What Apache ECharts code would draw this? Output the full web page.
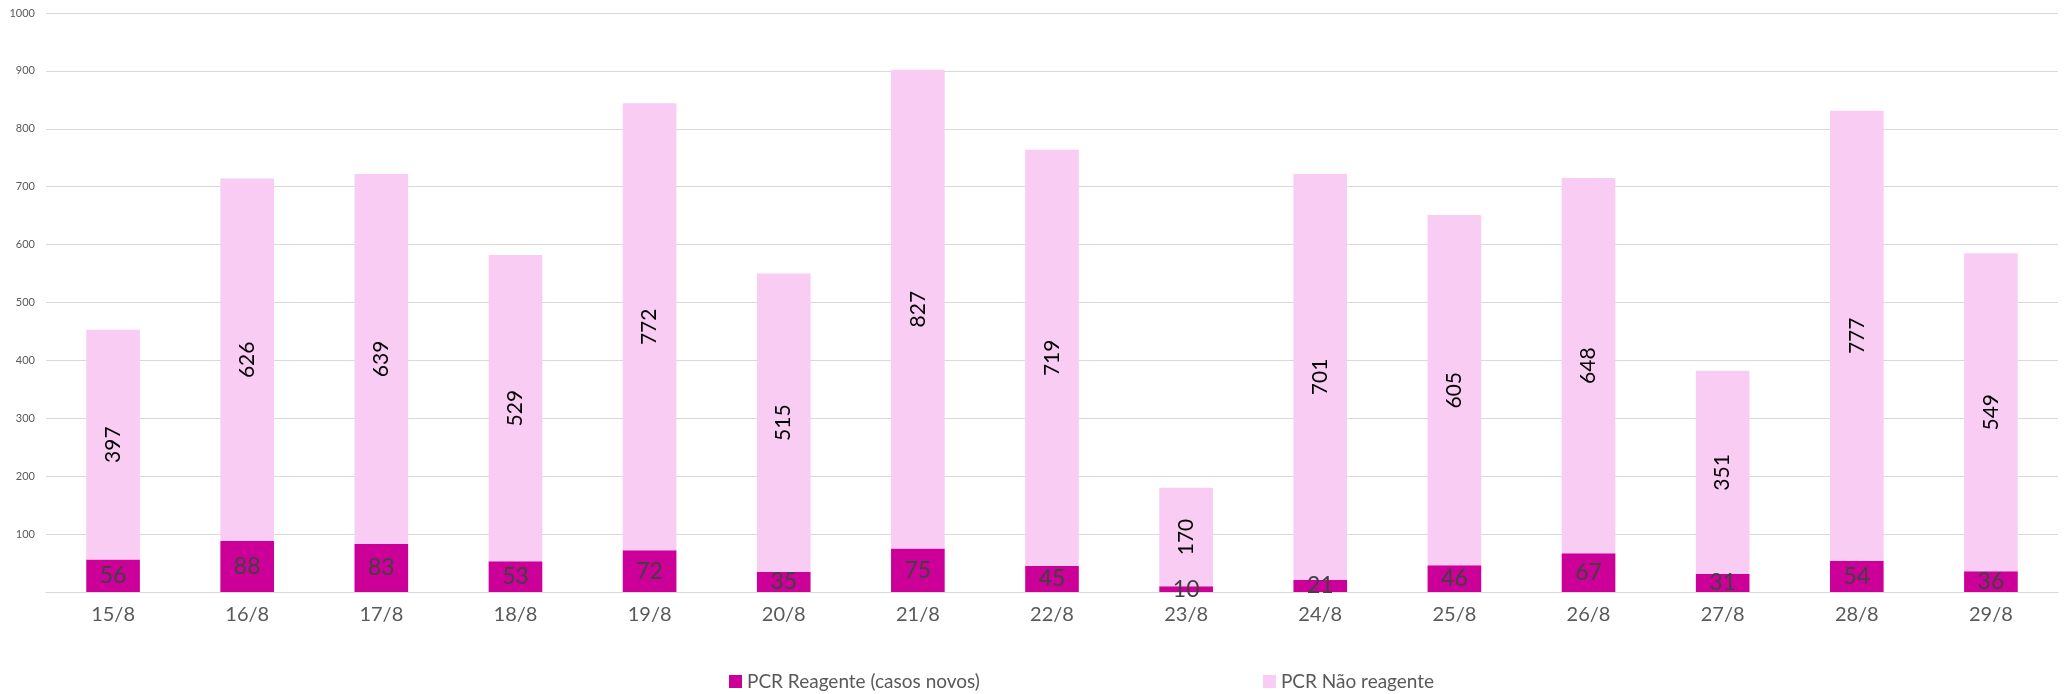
<!DOCTYPE html>
<html><head><meta charset="utf-8">
<script src="https://cdn.jsdelivr.net/npm/echarts@6/dist/echarts.min.js"></script>
<style>html,body{margin:0;padding:0;background:#fff}#c{width:2065px;height:694px}</style>
</head><body><div id="c"></div>
<script>
const categories = ['15/8','16/8','17/8','18/8','19/8','20/8','21/8','22/8','23/8','24/8','25/8','26/8','27/8','28/8','29/8'];
const reagente = [56,88,83,53,72,35,75,45,10,21,46,67,31,54,36];
const naoReagente = [397,626,639,529,772,515,827,719,170,701,605,648,351,777,549];
const seriesNames = ['PCR Reagente (casos novos)','PCR Não reagente'];
const FONT = 'Lato, "Open Sans", sans-serif';
const chart = echarts.init(document.getElementById('c'));
chart.setOption({
  animation:false,
  textStyle:{fontFamily:FONT},
  grid:{left:46,right:7,top:13,bottom:102,containLabel:false},
  legend:{
    data:seriesNames, left:724, top:667, itemGap:283, itemWidth:13, itemHeight:13,
    icon:'rect', textStyle:{fontSize:19,color:'#595959',fontFamily:FONT}
  },
  xAxis:{type:'category',data:categories,
    axisLine:{show:true,lineStyle:{color:'#d9d9d9'}},axisTick:{show:false},
    axisLabel:{fontSize:20,color:'#595959',margin:13,fontFamily:FONT}},
  yAxis:{type:'value',min:0,max:1000,interval:100,
    axisLine:{show:false},axisTick:{show:false},
    splitLine:{lineStyle:{color:'#d9d9d9',width:1}},
    axisLabel:{fontSize:11,color:'#595959',margin:11,fontFamily:FONT,
      formatter:v=>v===0?'':String(v)}},
  series:[
    {name:seriesNames[0],type:'bar',stack:'t',data:reagente,barCategoryGap:'60%',
     itemStyle:{color:'#CC0099'},
     label:{show:true,position:'inside',fontSize:23,color:'#404040',fontFamily:FONT}},
    {name:seriesNames[1],type:'bar',stack:'t',data:naoReagente,barCategoryGap:'60%',
     itemStyle:{color:'#F9CCF3'},
     label:{show:true,position:'inside',rotate:90,fontSize:21,color:'#000',fontFamily:FONT}}
  ]
});
</script></body></html>
